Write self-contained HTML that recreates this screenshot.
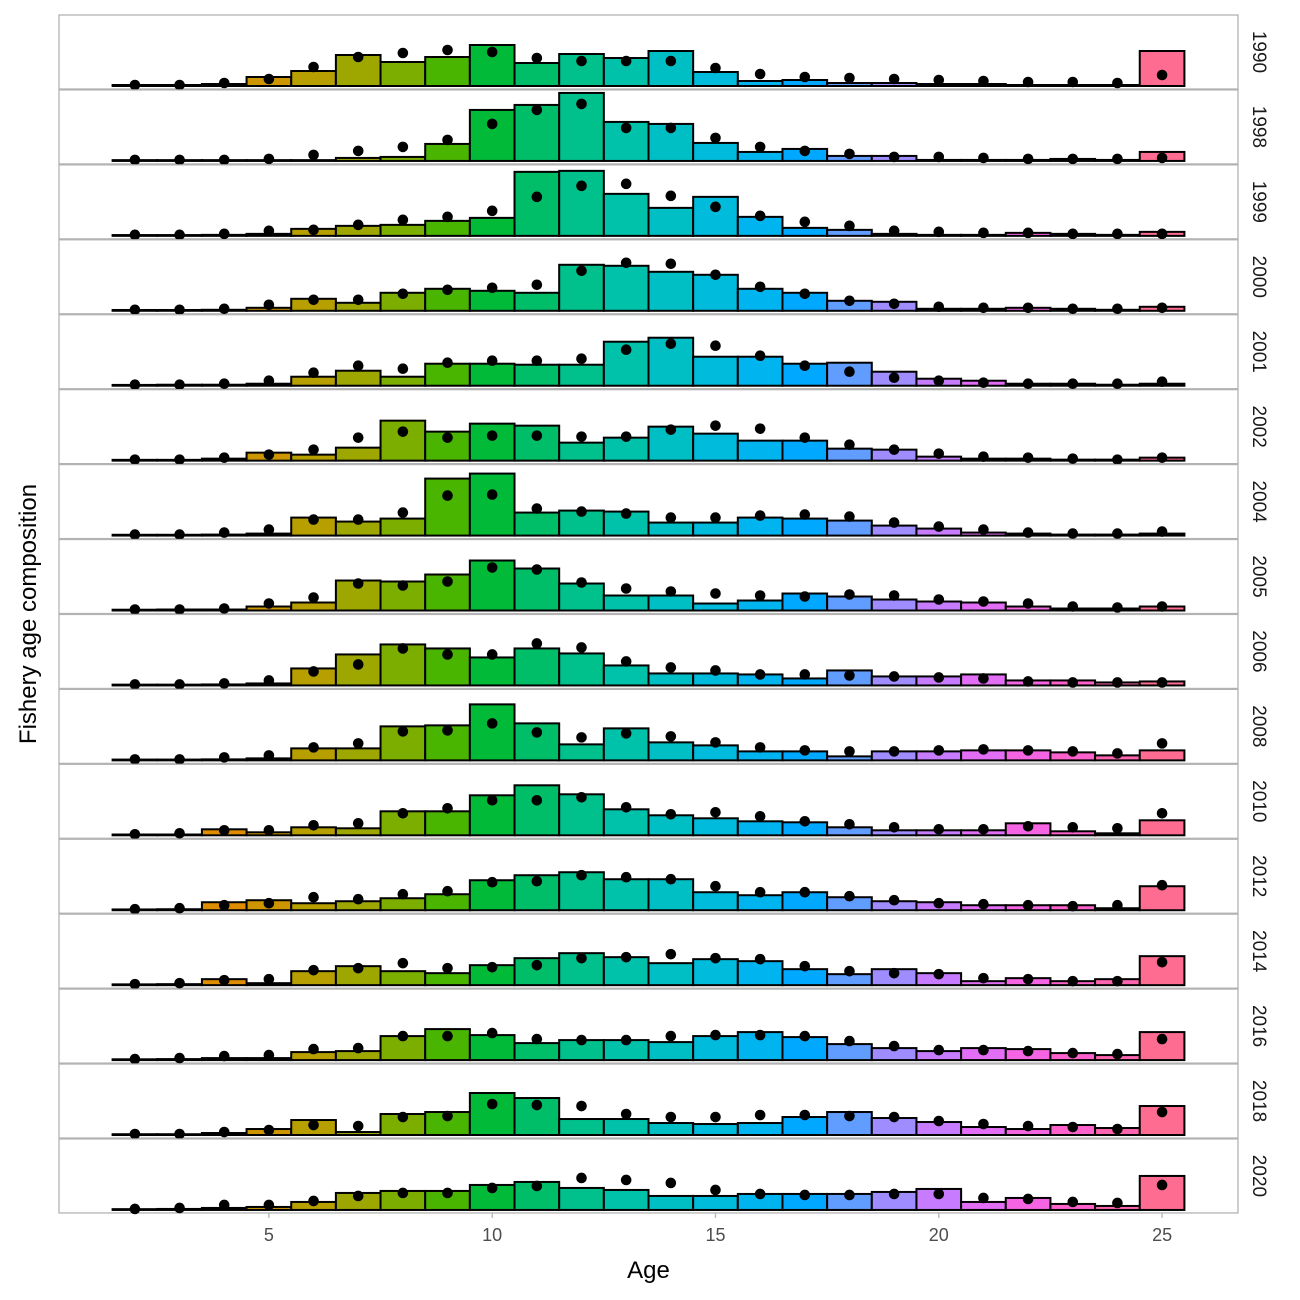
<!DOCTYPE html>
<html><head><meta charset="utf-8">
<style>
html,body{margin:0;padding:0;background:#fff;}
svg{display:block;font-family:"Liberation Sans",Arial,sans-serif;}
</style></head>
<body>
<svg id="chart" width="1300" height="1300" viewBox="0 0 1300 1300"></svg>
<script>
const years = ["1990","1998","1999","2000","2001","2002","2004","2005","2006","2008","2010","2012","2014","2016","2018","2020"];
const ages = [2,3,4,5,6,7,8,9,10,11,12,13,14,15,16,17,18,19,20,21,22,23,24,25];
const xTicks = [5,10,15,20,25];
// observed composition (bars), relative units (66 = panel max)
const obs = [
[1,1,2,9,15,31,24,29,41,23,32,28,35,14,5,6,3,3,2,2,1,1,1,35],
[0,0,0,0,0,3,4,17,51,56,68,39,37,18,9,12,5,5,1,1,1,2,1,9],
[0,0,1,2,7,10,11,15,18,64,65,42,28,39,19,8,6,2,1,1,3,2,1,4],
[0,0,1,3,12,8,18,22,20,18,46,45,39,36,22,18,10,9,2,2,3,2,1,4],
[0,1,1,2,9,15,9,22,22,21,21,44,48,29,29,22,23,14,7,5,2,2,1,2],
[0,0,2,8,6,13,40,29,37,35,18,23,34,27,20,20,12,11,4,2,2,1,1,3],
[0,0,1,2,18,14,17,57,62,23,25,24,13,13,18,17,15,10,7,3,2,1,1,2],
[0,1,1,4,8,30,29,36,50,42,27,15,15,7,10,17,14,11,9,8,4,2,2,4],
[0,0,1,2,17,31,41,37,28,37,32,20,12,12,11,7,15,9,9,11,5,5,3,4],
[0,0,1,2,12,12,34,35,56,37,16,32,18,15,9,9,4,9,9,10,10,8,5,10],
[0,0,6,3,8,7,24,24,40,50,41,26,20,17,14,13,8,5,5,5,12,4,2,15],
[0,1,8,10,7,9,12,16,30,35,38,31,31,18,15,18,13,9,8,5,5,5,2,24],
[0,1,6,2,14,19,14,12,20,27,32,28,22,26,24,16,11,16,12,4,7,4,6,29],
[0,1,2,2,8,9,24,31,25,17,20,20,18,24,28,23,16,12,9,12,11,7,5,28],
[0,0,2,6,15,3,21,23,42,37,16,16,12,11,12,18,23,17,13,8,6,10,7,29],
[0,1,2,3,8,17,19,19,25,28,22,20,14,14,16,16,16,18,21,8,12,6,4,34]
];
// expected composition (points)
const pred = [
[1,1,3,7,19,29,33,36,34,28,25,25,25,18,12,9,8,7,6,5,4,4,3,11],
[1,1,1,2,6,10,14,21,37,51,57,33,33,23,14,10,7,4,4,3,2,2,2,3],
[1,1,2,5,6,11,16,19,25,39,50,52,40,29,20,14,10,5,4,3,3,2,2,2],
[1,1,2,6,11,11,17,21,23,26,40,48,47,36,24,17,10,7,4,3,3,2,2,3],
[1,1,2,5,13,20,17,23,25,25,27,36,42,40,30,20,14,8,5,3,2,2,2,4],
[1,1,3,6,11,23,29,23,25,25,24,24,31,35,32,23,16,11,7,4,3,2,1,3],
[1,1,3,6,16,16,23,40,41,27,24,22,18,18,20,21,19,13,9,6,3,2,2,4],
[1,1,2,7,13,27,25,29,43,41,28,22,19,17,15,14,16,15,11,9,7,4,3,4],
[1,1,2,5,14,21,37,31,31,42,38,24,18,15,11,11,10,9,8,7,4,3,3,3],
[1,1,3,5,13,17,29,30,37,28,23,27,24,18,13,10,9,9,10,11,10,9,7,17],
[1,2,5,5,10,12,22,27,35,35,38,28,21,23,19,14,11,8,6,6,9,8,7,22],
[1,2,5,7,13,11,16,19,28,29,35,33,31,24,18,18,14,10,7,6,5,4,5,25],
[1,2,5,6,15,17,22,17,18,20,27,28,31,27,26,19,14,12,11,7,6,4,4,23],
[1,2,4,5,11,12,24,24,27,21,20,20,24,25,25,24,19,14,10,10,9,7,6,21],
[1,1,3,5,10,9,18,19,31,30,29,21,18,18,20,20,19,18,14,11,9,8,6,23],
[1,2,5,5,9,14,17,17,22,24,32,30,27,20,16,15,15,16,16,12,11,8,7,25]
];

const NS = "http://www.w3.org/2000/svg";
const svg = document.getElementById("chart");
function mk(tag, attrs, parent){
  const e = document.createElementNS(NS, tag);
  for (const k in attrs) e.setAttribute(k, attrs[k]);
  (parent||svg).appendChild(e);
  return e;
}
function hcl(h, c, l){
  const hr = h*Math.PI/180;
  const U = c*Math.cos(hr), V = c*Math.sin(hr);
  const Xn=95.047,Yn=100,Zn=108.883;
  const un = 4*Xn/(Xn+15*Yn+3*Zn), vn = 9*Yn/(Xn+15*Yn+3*Zn);
  const Y = l>8 ? Yn*Math.pow((l+16)/116,3) : Yn*l/903.3;
  const u = U/(13*l)+un, v = V/(13*l)+vn;
  const X = 9*Y*u/(4*v), Z = -X/3 - 5*Y + 3*Y/v;
  const x=X/100,y=Y/100,z=Z/100;
  let r = 3.2406*x -1.5372*y -0.4986*z;
  let g = -0.9689*x +1.8758*y +0.0415*z;
  let b = 0.0557*x -0.2040*y +1.0570*z;
  const gam = t => { t = t<=0.0031308 ? 12.92*t : 1.055*Math.pow(t,1/2.4)-0.055; return Math.round(Math.max(0,Math.min(1,t))*255); };
  return "rgb("+gam(r)+","+gam(g)+","+gam(b)+")";
}
const colors = ages.map((a,i)=>hcl(15+360*i/ages.length,100,65));

const plotL = 59, plotR = 1238;
const xMin = 0.3, xMax = 26.7;
const xS = a => plotL + (a-xMin)/(xMax-xMin)*(plotR-plotL);
const panelTop0 = 15, panelStep = 74.93, panelH = 74;
const yMaxUnits = 66;

years.forEach((yr, p) => {
  const top = panelTop0 + p*panelStep;
  const B = top + 71;
  const yS = v => B - v/yMaxUnits*66;
  const g = mk("g", {});
  
  
  const border = mk("rect", {x:plotL, y:top, width:plotR-plotL, height:panelH, fill:"#fff", stroke:"#b3b3b3", "stroke-width":1.3}, g);
  
  
  ages.forEach((a, i) => {
    const v = obs[p][i];
    const h = Math.max(B - yS(v), 0.8);
    const r = mk("rect", {x:xS(a-0.5), y:B-h, width:xS(a+0.5)-xS(a-0.5), height:h, fill:colors[i], stroke:"#000", "stroke-width":2}, g);
    
    
  });
  ages.forEach((a, i) => {
    const c = mk("circle", {cx:xS(a), cy:yS(pred[p][i]), r:5.3, fill:"#000"}, g);
    
    
  });
  const t = mk("text", {x:0, y:0, transform:"translate(1253,"+(top+panelH/2)+") rotate(90)", "text-anchor":"middle", "font-size":19, fill:"#1a1a1a"}, g);
  t.textContent = yr;
  
  
});

const axisY = panelTop0 + 15*panelStep + panelH;
xTicks.forEach(tk => {
  const l = mk("line", {x1:xS(tk), x2:xS(tk), y1:axisY, y2:axisY+5, stroke:"#b3b3b3", "stroke-width":1.3});
  
  
  const t = mk("text", {x:xS(tk), y:axisY+28, "text-anchor":"middle", "font-size":18, fill:"#4d4d4d"});
  t.textContent = tk;
  
  
});
const xt = mk("text", {x:(plotL+plotR)/2, y:1278, "text-anchor":"middle", "font-size":24, fill:"#000"});
xt.textContent = "Age";


const yt = mk("text", {x:0, y:0, transform:"translate(36,614) rotate(-90)", "text-anchor":"middle", "font-size":24, fill:"#000"});
yt.textContent = "Fishery age composition";


</script>
</body></html>
